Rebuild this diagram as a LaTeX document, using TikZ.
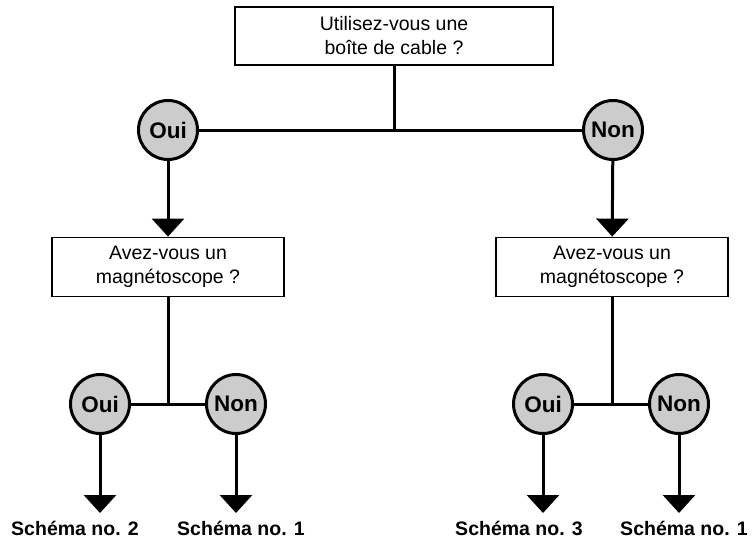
\documentclass[tikz,border=0pt]{standalone}
\usepackage{fontspec}
\setmainfont{Liberation Sans}
\usetikzlibrary{arrows.meta,positioning}
\newcommand{\chartfont}{\fontsize{19.5pt}{24pt}\selectfont}
\definecolor{answergray}{gray}{0.8}
\tikzset{box/.style={draw,line width=1.8pt,align=center,inner sep=0pt,minimum width=232pt,minimum height=59pt},answer/.style={draw,circle,line width=3pt,fill=answergray,minimum size=59pt,inner sep=0pt,font=\fontsize{22.5pt}{24pt}\selectfont\bfseries},link/.style={line width=3pt},arrow/.style={link,-{Triangle[length=18pt,width=32pt]}},outcome/.style={inner sep=0pt,anchor=base,font=\chartfont\bfseries}}

\begin{document}
\begin{tikzpicture}[x=1pt,y=-1pt,font=\chartfont]
\useasboundingbox (0,0) rectangle (752,538);
\node[box,minimum width=318pt,minimum height=58pt] (cable) at (394,36) {Utilisez-vous une\\boîte de cable ?};
\node[answer] (oui1) at (168,130) {Oui};
\node[answer] (non1) at (613,130) {Non};
\node[box] (vcrA) at (168,267) {Avez-vous un\\magnétoscope ?};
\node[box] (vcrB) at (612,267) {Avez-vous un\\magnétoscope ?};
\node[answer] (ouiA) at (100,404) {Oui};
\node[answer] (nonA) at (236,404) {Non};
\node[answer] (ouiB) at (543,404) {Oui};
\node[answer] (nonB) at (679,404) {Non};
\coordinate (tipA1) at (100,513); \coordinate (tipA2) at (236,513);
\coordinate (tipB1) at (543,513); \coordinate (tipB2) at (679,513);
\node[outcome] (schA1) at (75,535) {Schéma no. 2};
\node[outcome] (schA2) at (241,535) {Schéma no. 1};
\node[outcome] (schB1) at (519,535) {Schéma no. 3};
\node[outcome] (schB2) at (684,535) {Schéma no. 1};
\draw[link] (cable.south) -- (cable.south |- oui1); \draw[link] (oui1) -- (non1);
\draw[arrow] (oui1) -- (vcrA); \draw[arrow] (non1) -- (vcrB);
\draw[link] (vcrA.south) -- (vcrA.south |- ouiA); \draw[link] (ouiA) -- (nonA);
\draw[link] (vcrB.south) -- (vcrB.south |- ouiB); \draw[link] (ouiB) -- (nonB);
\draw[arrow] (ouiA) -- (tipA1); \draw[arrow] (nonA) -- (tipA2);
\draw[arrow] (ouiB) -- (tipB1); \draw[arrow] (nonB) -- (tipB2);
\end{tikzpicture}
\end{document}
